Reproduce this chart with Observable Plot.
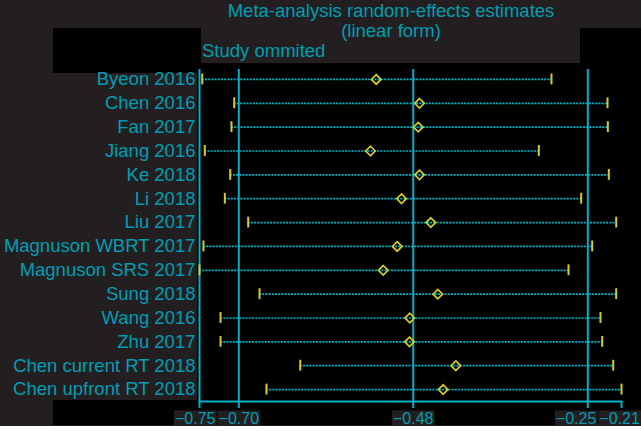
<!DOCTYPE html>
<html><head><meta charset="utf-8">
<script src="https://cdn.jsdelivr.net/npm/d3@7"></script>
<script src="https://cdn.jsdelivr.net/npm/@observablehq/plot@0.6"></script>
<style>
body{margin:0;background:#fff;font-family:"Liberation Sans",Arial,Helvetica,sans-serif;}
#wrap{position:relative;width:641px;height:426px;background:#231f20;overflow:hidden;}
.blk{position:absolute;background:#000;}
.gry{position:absolute;background:#231f20;}
.t{position:absolute;color:#009db3;font-size:18.5px;line-height:1;white-space:nowrap;}
#chart{position:absolute;left:0;top:0;}
</style></head><body>
<div id="wrap">
  <div class="blk" style="left:53px;top:28px;width:588px;height:397px"></div>
  <div class="gry" style="left:201px;top:28px;width:379px;height:35px"></div>
  <div class="gry" style="left:0;top:72.7px;width:197px;height:327.3px"></div>
  <div class="t" style="left:391px;top:2px;transform:translateX(-50%)">Meta-analysis random-effects estimates</div>
  <div class="t" style="left:391px;top:22px;transform:translateX(-50%)">(linear form)</div>
  <div class="t" style="left:202px;top:42px">Study ommited</div>
  <div id="chart"></div>
</div>
<script>
const studies = ["Byeon 2016","Chen 2016","Fan 2017","Jiang 2016","Ke 2018","Li 2018","Liu 2017",
  "Magnuson WBRT 2017","Magnuson SRS 2017","Sung 2018","Wang 2016","Zhu 2017",
  "Chen current RT 2018","Chen upfront RT 2018"];
const lower    = [-0.7465,-0.7056,-0.7091,-0.7432,-0.7107,-0.7176,-0.6877,-0.7449,-0.7500,-0.6732,-0.7231,-0.7231,-0.6211,-0.6643];
const estimate = [-0.5239,-0.4685,-0.4701,-0.5312,-0.4685,-0.4915,-0.4540,-0.4970,-0.5149,-0.4451,-0.4809,-0.4813,-0.4220,-0.4382];
const upper    = [-0.2996,-0.2279,-0.2275,-0.3158,-0.2262,-0.2616,-0.2168,-0.2475,-0.2778,-0.2168,-0.2369,-0.2347,-0.2206,-0.2100];
// overall estimate: lower CI, estimate, upper CI
const overall = [-0.6997,-0.4765,-0.2531];

const rows = studies.map((s,i)=>({study:s, lower:lower[i], estimate:estimate[i], upper:upper[i]}));
const xmin = d3.min(lower), xmax = d3.max(upper);
const tickValues = [xmin, ...overall, xmax];

const teal = "#009db3", line = "#00afc8", dotted = "#00b6ce", yellow = "#d6cc26";
const fmt = v => d3.format(".2f")(v).replace("-", "\u2212");

const plot = Plot.plot({
  width: 641, height: 426,
  marginLeft: 199, marginRight: 20, marginTop: 67, marginBottom: 25,
  style: {background: "transparent", fontFamily: "Liberation Sans, Arial, sans-serif", overflow: "visible"},
  x: {domain: [xmin, xmax]},
  y: {domain: studies, type: "band", padding: 0, round: false},
  marks: [
    Plot.ruleX([xmin, ...overall], {stroke: line, strokeWidth: 2, insetTop: 2}),
    Plot.frame({anchor: "bottom", stroke: line, strokeWidth: 2}),
    Plot.ruleY(rows, {y: "study", x1: "lower", x2: "upper", stroke: dotted, strokeWidth: 1.7, strokeDasharray: "2,1.2"}),
    Plot.tickX(rows, {x: "lower", y: "study", stroke: yellow, strokeWidth: 2, insetTop: 6.5, insetBottom: 6.5}),
    Plot.tickX(rows, {x: "upper", y: "study", stroke: yellow, strokeWidth: 2, insetTop: 6.5, insetBottom: 6.5}),
    Plot.dot(rows, {x: "estimate", y: "study", symbol: "diamond2", r: 4.3, stroke: yellow, strokeWidth: 1.7, fill: "none"}),
    Plot.axisX({ticks: tickValues, tickFormat: fmt, tickSize: 7, tickPadding: 4, fontSize: 16, stroke: line, fill: teal, strokeWidth: 2, label: null}),
    Plot.axisY({tickSize: 0, tickPadding: 4, fontSize: 18.5, fill: teal, label: null})
  ]
});
document.getElementById("chart").appendChild(plot);

// nudge x tick labels apart (avoid overlap, keep inside the picture) and give them dark boxes
const texts = Array.from(plot.querySelectorAll('g[aria-label="x-axis tick label"] text'));
const items = texts.map(t => ({t, bb: t.getBBox(), ctm: t.getCTM()}))
  .map(o => ({...o, left: o.bb.x + o.ctm.e, right: o.bb.x + o.bb.width + o.ctm.e, shift: 0}))
  .sort((a,b) => a.left - b.left);
const gap = 3, W = 640;
const last = items[items.length-1];
if (last.right > W) last.shift = W - last.right;
for (let i = items.length - 2; i >= 0; i--) {
  const nextLeft = items[i+1].left + items[i+1].shift;
  const over = items[i].right - (nextLeft - gap);
  if (over > 0) items[i].shift = -over;
}
items.forEach(o => {
  o.t.setAttribute("dx", o.shift);
  const r = document.createElementNS("http://www.w3.org/2000/svg", "rect");
  r.setAttribute("x", o.bb.x + o.shift - 1);
  r.setAttribute("y", o.bb.y + 0.5);
  r.setAttribute("width", o.bb.width + 2);
  r.setAttribute("height", 16.5);
  r.setAttribute("fill", "#231f20");
  r.setAttribute("transform", o.t.getAttribute("transform") || "");
  o.t.parentNode.insertBefore(r, o.t);
});
</script>
</body></html>
